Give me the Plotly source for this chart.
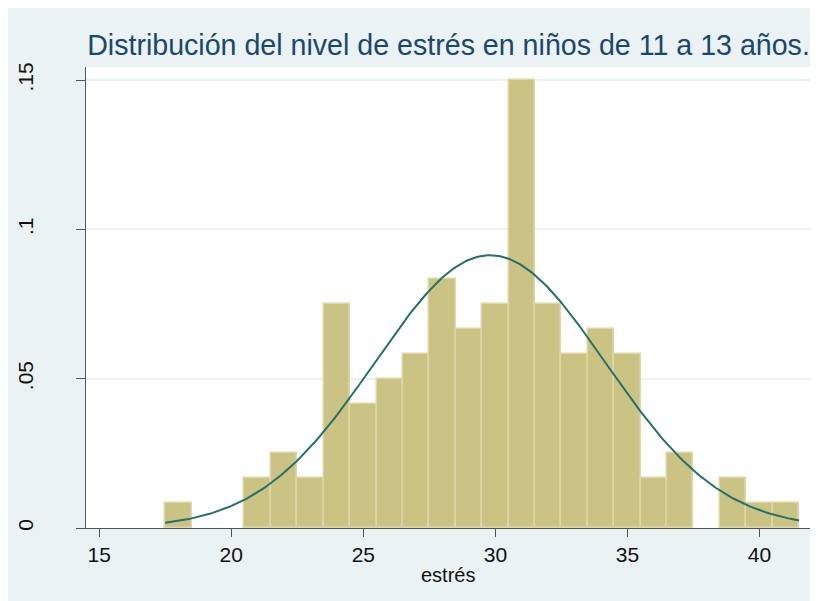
import numpy as np
import plotly.graph_objects as go

# Data: histogram bins (centers, width 1) and counts
bin_centers = [18, 19, 20, 21, 22, 23, 24, 25, 26, 27, 28, 29, 30, 31, 32, 33, 34, 35, 36, 37, 38, 39, 40, 41]
counts = [1, 0, 0, 2, 3, 2, 9, 5, 6, 7, 10, 8, 9, 18, 9, 7, 8, 7, 2, 3, 0, 2, 1, 1]
x_ticks = [15, 20, 25, 30, 35, 40]
y_ticks = [0, 0.05, 0.1, 0.15]
y_tick_labels = ["0", ".05", ".1", ".15"]
title_text = "Distribución del nivel de estrés en niños de 11 a 13 años."
x_title = "estrés"

c = np.array(bin_centers, dtype=float)
n = np.array(counts, dtype=float)
N = n.sum()
density = n / N
bar_heights = [d if d > 0 else None for d in density]
mean = (c * n).sum() / N
sd = np.sqrt(((c - mean) ** 2 * n).sum() / (N - 1))
xs = np.linspace(c.min() - 0.5, c.max() + 0.5, 300)
pdf = np.exp(-0.5 * ((xs - mean) / sd) ** 2) / (sd * np.sqrt(2 * np.pi))

NARROW = "Liberation Sans Narrow, Arial Narrow, Liberation Sans, Arial, sans-serif"
SANS = "Liberation Sans, Arial, sans-serif"
BG = "#EAF2F3"

W, H = 810, 593
L, R, T, B = 78, 7, 59, 73
PW, PH = W - L - R, H - T - B

fig = go.Figure()
fig.add_trace(go.Bar(
    x=bin_centers, y=bar_heights, width=1,
    marker=dict(color="#CBC383", line=dict(color="#DDD8A8", width=1.5)),
    showlegend=False, hoverinfo="x+y",
))
fig.add_trace(go.Scatter(
    x=xs, y=pdf, mode="lines",
    line=dict(color="#24706A", width=2), showlegend=False,
))

fig.update_layout(
    width=W, height=H,
    margin=dict(l=L, r=R, t=T, b=B, autoexpand=False),
    paper_bgcolor=BG, plot_bgcolor="white",
    bargap=0,
    font=dict(family=SANS, color="#111111"),
    title=dict(text=title_text, x=0.5, xref="paper", xanchor="center",
               y=1 - 37 / H, yref="container", yanchor="middle",
               font=dict(family=NARROW, size=28.6, color="#1A476F"), automargin=False),
    xaxis=dict(range=[14.5, 41.95], tickvals=x_ticks, ticks="outside", ticklen=8,
               tickcolor="#555555", tickwidth=1.3,
               showline=True, linecolor="#555555", linewidth=1.3,
               showgrid=False, zeroline=False, automargin=False,
               tickfont=dict(size=21, family=SANS, color="#111111")),
    yaxis=dict(range=[0, 0.1544], tickvals=y_ticks, ticktext=y_tick_labels,
               ticks="outside", ticklen=9, tickcolor="#555555", tickwidth=1.3,
               showline=True, linecolor="#555555", linewidth=1.3,
               showgrid=True, gridcolor=BG, gridwidth=1.5, zeroline=False,
               tickangle=-90, ticklabelstandoff=34, automargin=False,
               tickfont=dict(size=21, family=SANS, color="#111111")),
    annotations=[
        dict(text=x_title, xref="paper", yref="paper", x=(440 - L) / PW,
             y=(H - B - 567) / PH, xanchor="center", yanchor="middle",
             showarrow=False, font=dict(size=20, family=SANS, color="#111111")),
    ],
)

fig.write_html("out.html")
